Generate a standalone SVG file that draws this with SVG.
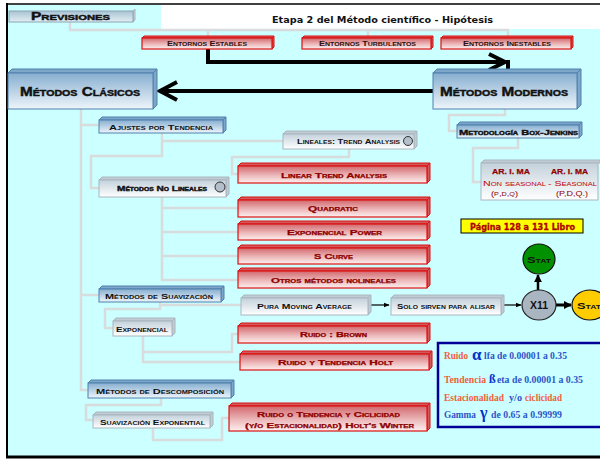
<svg xmlns="http://www.w3.org/2000/svg" width="600" height="460" viewBox="0 0 600 460">
  <defs>
    <linearGradient id="gBlue" x1="0" y1="0" x2="0" y2="1">
      <stop offset="0" stop-color="#86aed0"/>
      <stop offset="1" stop-color="#eef5fa"/>
    </linearGradient>
    <linearGradient id="gRed" x1="0" y1="0" x2="0" y2="1">
      <stop offset="0" stop-color="#d2686d"/>
      <stop offset="0.55" stop-color="#ecb8ba"/>
      <stop offset="1" stop-color="#fdf0f0"/>
    </linearGradient>
    <linearGradient id="gGrey" x1="0" y1="0" x2="0" y2="1">
      <stop offset="0" stop-color="#c3d1db"/>
      <stop offset="1" stop-color="#ffffff"/>
    </linearGradient>
    <linearGradient id="gSteel" x1="0" y1="0" x2="0" y2="1">
      <stop offset="0" stop-color="#a9c4d4"/>
      <stop offset="1" stop-color="#e3eef3"/>
    </linearGradient>
    <marker id="arrThin" viewBox="0 0 10 10" refX="9" refY="5" markerWidth="6" markerHeight="6" orient="auto" markerUnits="userSpaceOnUse">
      <path d="M0,1 L10,5 L0,9 Z" fill="#000"/>
    </marker>
    <marker id="arrBold" viewBox="0 0 10 10" refX="9" refY="5" markerWidth="8" markerHeight="8" orient="auto" markerUnits="userSpaceOnUse">
      <path d="M0,0 L10,5 L0,10 Z" fill="#000"/>
    </marker>
  </defs>
  <style>
    .blue { fill: url(#gBlue); stroke: #4f80ad; stroke-width: 1; }
    .blueS { fill: #7ea6c8; stroke: #4f80ad; stroke-width: 1; }
    .red { fill: url(#gRed); stroke: #dd1111; stroke-width: 1.2; }
    .redS { fill: #d05a5e; stroke: #dd1111; stroke-width: 1; }
    .grey { fill: url(#gGrey); stroke: #a9b6bf; stroke-width: 1; }
    .greyS { fill: #c0cbd3; stroke: #a9b6bf; stroke-width: 1; }
    .cc { font-family: "Liberation Sans", "DejaVu Sans", sans-serif; font-weight: bold; font-variant: small-caps; fill: #111; }
    .big { stroke: #111; stroke-width: 0.45; }
    .rt { font-family: "Liberation Sans", "DejaVu Sans", sans-serif; font-weight: bold; font-variant: small-caps; fill: #8e0000; stroke: #8e0000; stroke-width: 0.25; }
    .link { fill: none; stroke: #d8dcdc; stroke-width: 2.5; }
    .heavy { fill: none; stroke: #000; stroke-width: 4; }
    .sr { font-family: "Liberation Serif", "DejaVu Serif", serif; font-weight: bold; font-size: 9.5px; }
    .or { fill: #f0603a; }
    .bl { fill: #2f55c8; }
    .knob { fill: #b3bfca; stroke: #333; stroke-width: 1; }
  </style>

  <!-- background and frame -->
  <rect x="0" y="0" width="600" height="460" fill="#ffffff"/>
  <rect x="7" y="5" width="593" height="451" fill="#ccffff"/>
  <rect x="161" y="5" width="439" height="24" fill="#ffffff"/>
  <line x1="6" y1="4" x2="600" y2="4" stroke="#000" stroke-width="1.6"/>
  <line x1="7" y1="3" x2="7" y2="458" stroke="#000" stroke-width="2"/>
  <line x1="6" y1="457" x2="600" y2="457" stroke="#000" stroke-width="3"/>

  <text x="272" y="23" font-family="DejaVu Sans, Verdana, sans-serif" font-weight="bold" font-size="9.5" fill="#111" textLength="221" lengthAdjust="spacingAndGlyphs">Etapa 2 del Método científico  - Hipótesis</text>

  <!-- connectors -->
  <g id="connectors">
    <path class="link" d="M70,22 V30 H508 V37 M208,30 V37 M368,30 V37"/>
    <path class="link" d="M81,109 V390 H88 M81,125 H99 M81,295 H99"/>
    <path class="link" d="M162,133 V156 H91 V188 H99 M162,141 H283"/>
    <path class="link" d="M349,149 V157 H232 V174 H238"/>
    <path class="link" d="M162,197 V280 H238 M162,208 H238 M162,232 H238 M162,256 H238"/>
    <path class="link" d="M160,302 V309 H105 V328 H113 M160,305 H241"/>
    <path class="link" d="M143,336 V362 H240 M143,352 H232 V334 H238"/>
    <path class="link" d="M161,398 V405 H86 V420 H93"/>
    <path class="link" d="M153,428 V440 H222 V418 H229"/>
    <path class="link" d="M505,109 V115 H449 V131 H457"/>
    <path class="link" d="M518,138 V148 H473 V182 H481"/>

    <path class="heavy" d="M208,49 V62 H504"/>
    <path class="heavy" d="M489,54 L505,62 L489,70" stroke-linejoin="miter"/>
    <path class="heavy" d="M508,60 V73"/>
    <path class="heavy" d="M433,91 H161"/>
    <path class="heavy" d="M177,82 L160,91 L177,100" stroke-linejoin="miter"/>

    <path d="M371,305 H389" stroke="#000" stroke-width="1.2" marker-end="url(#arrThin)"/>
    <path d="M504,305 H521" stroke="#000" stroke-width="1.2" marker-end="url(#arrThin)"/>
    <path d="M538,290 V275" stroke="#000" stroke-width="2.5" marker-end="url(#arrBold)"/>
    <path d="M556,305 H571" stroke="#000" stroke-width="3" marker-end="url(#arrBold)"/>
  </g>

  <!-- Previsiones -->
  <g id="previsiones">
    <path class="greyS" d="M133,11 L135,9 L135,20 L133,22 Z"/>
    <rect x="9" y="11" width="124" height="11" fill="url(#gSteel)" stroke="#8aa4b4" stroke-width="1"/>
    <text class="cc big" x="31" y="20" font-size="11" textLength="79" lengthAdjust="spacingAndGlyphs">Previsiones</text>
  </g>

  <!-- Entornos -->
  <g id="entornos-estables">
    <path class="redS" d="M142,38 L144,36 L274,36 L272,38 Z M272,38 L274,36 L274,47 L272,49 Z"/>
    <rect class="red" x="142" y="38" width="130" height="11"/>
    <text class="rt" x="167" y="46" font-size="6.5" style="fill:#2a1010;stroke:none" textLength="80" lengthAdjust="spacingAndGlyphs">Entornos Estables</text>
  </g>
  <g id="entornos-turbulentos">
    <path class="redS" d="M302,38 L304,36 L433,36 L431,38 Z M431,38 L433,36 L433,47 L431,49 Z"/>
    <rect class="red" x="302" y="38" width="129" height="11"/>
    <text class="rt" x="319" y="46" font-size="6.5" style="fill:#2a1010;stroke:none" textLength="97" lengthAdjust="spacingAndGlyphs">Entornos Turbulentos</text>
  </g>
  <g id="entornos-inestables">
    <path class="redS" d="M441,38 L443,36 L573,36 L571,38 Z M571,38 L573,36 L573,47 L571,49 Z"/>
    <rect class="red" x="441" y="38" width="130" height="11"/>
    <text class="rt" x="463" y="46" font-size="6.5" style="fill:#2a1010;stroke:none" textLength="88" lengthAdjust="spacingAndGlyphs">Entornos Inestables</text>
  </g>

  <!-- main blocks -->
  <g id="metodos-clasicos">
    <path class="blueS" d="M8,73 L12,69 L157,69 L153,73 Z M153,73 L157,69 L157,105 L153,109 Z"/>
    <rect class="blue" x="8" y="73" width="145" height="36"/>
    <text class="cc big" x="20" y="96" font-size="13" textLength="120" lengthAdjust="spacingAndGlyphs">Métodos Clásicos</text>
  </g>
  <g id="metodos-modernos">
    <path class="blueS" d="M433,73 L437,69 L581,69 L577,73 Z M577,73 L581,69 L581,105 L577,109 Z"/>
    <rect class="blue" x="433" y="73" width="144" height="36"/>
    <text class="cc big" x="440" y="96" font-size="13" textLength="128" lengthAdjust="spacingAndGlyphs">Métodos Modernos</text>
  </g>

  <g id="ajustes">
    <path class="blueS" d="M99,120 L102,117 L226,117 L223,120 Z M223,120 L226,117 L226,130 L223,133 Z"/>
    <rect class="blue" x="99" y="120" width="124" height="13"/>
    <text class="cc" x="109" y="130" font-size="7.5" textLength="104" lengthAdjust="spacingAndGlyphs">Ajustes por Tendencia</text>
  </g>

  <g id="lineales">
    <path class="greyS" d="M283,134 L286,131 L417,131 L414,134 Z M414,134 L417,131 L417,146 L414,149 Z"/>
    <rect class="grey" x="283" y="134" width="131" height="15"/>
    <text class="cc" x="297" y="144" font-size="7" textLength="103" lengthAdjust="spacingAndGlyphs">Lineales: Trend Analysis</text>
    <circle class="knob" cx="408" cy="141" r="4.5"/>
  </g>

  <g id="box-jenkins">
    <path class="blueS" d="M457,125 L460,122 L582,122 L579,125 Z M579,125 L582,122 L582,135 L579,138 Z"/>
    <rect class="blue" x="457" y="125" width="122" height="13"/>
    <text class="cc" x="459" y="135" font-size="7.5" textLength="119" lengthAdjust="spacingAndGlyphs" style="stroke:#111;stroke-width:0.35">Metodología Box-Jenkins</text>
  </g>

  <g id="arima">
    <path class="greyS" d="M481,163 L484,160 L600,160 L600,163 Z"/>
    <rect class="grey" x="481" y="163" width="117" height="37"/>
    <text class="rt" x="492" y="174" font-size="8" textLength="38" lengthAdjust="spacingAndGlyphs">AR. I. MA</text>
    <text class="rt" x="551" y="174" font-size="8" textLength="37" lengthAdjust="spacingAndGlyphs">AR. I. MA</text>
    <text class="rt" x="483" y="186" font-size="7" style="fill:#c00000;stroke:none;font-weight:normal" textLength="63" lengthAdjust="spacingAndGlyphs">Non seasonal</text>
    <text class="rt" x="548" y="186" font-size="7" style="fill:#c00000;stroke:none;font-weight:normal" textLength="49" lengthAdjust="spacingAndGlyphs">- Seasonal</text>
    <text class="rt" x="491" y="196" font-size="6.5" style="stroke:none;font-weight:normal" textLength="27" lengthAdjust="spacingAndGlyphs">(p,d,q)</text>
    <text class="rt" x="556" y="196" font-size="7" style="stroke:none;font-weight:normal" textLength="32" lengthAdjust="spacingAndGlyphs">(P,D,Q.)</text>
  </g>

  <g id="no-lineales">
    <path class="greyS" d="M99,180 L102,177 L229,177 L226,180 Z M226,180 L229,177 L229,194 L226,197 Z"/>
    <rect class="grey" x="99" y="180" width="127" height="17"/>
    <text class="cc" x="117" y="191" font-size="7.5" textLength="90" lengthAdjust="spacingAndGlyphs" style="stroke:#111;stroke-width:0.4">Métodos No Lineales</text>
    <circle class="knob" cx="220" cy="187" r="5"/>
  </g>

  <!-- red method boxes -->
  <g id="linear-trend">
    <path class="redS" d="M238,166 L241,163 L430,163 L427,166 Z M427,166 L430,163 L430,180 L427,183 Z"/>
    <rect class="red" x="238" y="166" width="189" height="17"/>
    <text class="rt" x="281" y="178" font-size="7.5" textLength="106" lengthAdjust="spacingAndGlyphs">Linear Trend Analysis</text>
  </g>
  <g id="quadratic">
    <path class="redS" d="M238,200 L241,197 L430,197 L427,200 Z M427,200 L430,197 L430,214 L427,217 Z"/>
    <rect class="red" x="238" y="200" width="189" height="17"/>
    <text class="rt" x="308" y="211" font-size="7.5" textLength="50" lengthAdjust="spacingAndGlyphs">Quadratic</text>
  </g>
  <g id="exp-power">
    <path class="redS" d="M238,224 L241,221 L430,221 L427,224 Z M427,224 L430,221 L430,237 L427,240 Z"/>
    <rect class="red" x="238" y="224" width="189" height="16"/>
    <text class="rt" x="287" y="235" font-size="7.5" textLength="95" lengthAdjust="spacingAndGlyphs">Exponencial Power</text>
  </g>
  <g id="s-curve">
    <path class="redS" d="M238,248 L241,245 L430,245 L427,248 Z M427,248 L430,245 L430,261 L427,264 Z"/>
    <rect class="red" x="238" y="248" width="189" height="16"/>
    <text class="rt" x="314" y="259" font-size="7.5" textLength="39" lengthAdjust="spacingAndGlyphs">S Curve</text>
  </g>
  <g id="otros">
    <path class="redS" d="M238,271 L241,268 L430,268 L427,271 Z M427,271 L430,268 L430,285 L427,288 Z"/>
    <rect class="red" x="238" y="271" width="189" height="17"/>
    <text class="rt" x="271" y="283" font-size="7.5" textLength="125" lengthAdjust="spacingAndGlyphs">Otros métodos nolineales</text>
  </g>

  <g id="suavizacion">
    <path class="blueS" d="M99,289 L102,286 L224,286 L221,289 Z M221,289 L224,286 L224,299 L221,302 Z"/>
    <rect class="blue" x="99" y="289" width="122" height="13"/>
    <text class="cc" x="105" y="299" font-size="7.5" textLength="108" lengthAdjust="spacingAndGlyphs">Métodos de Suavización</text>
  </g>

  <g id="pura-ma">
    <path class="greyS" d="M241,298 L244,295 L371,295 L368,298 Z M368,298 L371,295 L371,312 L368,315 Z"/>
    <rect class="grey" x="241" y="298" width="127" height="17"/>
    <text class="cc" x="257" y="309" font-size="7.5" textLength="95" lengthAdjust="spacingAndGlyphs">Pura  Moving Average</text>
  </g>
  <g id="solo-alisar">
    <path class="greyS" d="M391,298 L394,295 L504,295 L501,298 Z M501,298 L504,295 L504,312 L501,315 Z"/>
    <rect class="grey" x="391" y="298" width="110" height="17"/>
    <text class="cc" x="397" y="309" font-size="7" textLength="98" lengthAdjust="spacingAndGlyphs">Solo sirven para alisar</text>
  </g>

  <g id="pagina">
    <rect x="461" y="219" width="122" height="14" fill="#ffff00" stroke="#000" stroke-width="1"/>
    <text x="470" y="230" font-family="DejaVu Sans, Verdana, sans-serif" font-weight="bold" font-size="8.5" fill="#cc0000" stroke="#7a0000" stroke-width="0.3" textLength="105" lengthAdjust="spacingAndGlyphs">Página 128 a 131 Libro</text>
  </g>

  <g id="x11">
    <ellipse cx="539" cy="305" rx="17" ry="15" fill="#a9b5c1" stroke="#222" stroke-width="1.2"/>
    <text x="530" y="309" font-family="Liberation Sans, sans-serif" font-weight="bold" font-size="10" fill="#111" textLength="18" lengthAdjust="spacingAndGlyphs">X11</text>
  </g>
  <g id="stat-green">
    <ellipse cx="539" cy="259" rx="16" ry="15" fill="#009000" stroke="#111" stroke-width="1.2"/>
    <text class="cc" x="527" y="263" font-size="9" textLength="24" lengthAdjust="spacingAndGlyphs">Stat</text>
  </g>
  <g id="stat-yellow">
    <ellipse cx="590" cy="305" rx="18" ry="15" fill="#ffcc00" stroke="#111" stroke-width="1.2"/>
    <text class="cc" x="577" y="309" font-size="9" textLength="24" lengthAdjust="spacingAndGlyphs">Stat</text>
  </g>

  <g id="exponencial">
    <path class="greyS" d="M113,321 L116,318 L175,318 L172,321 Z M172,321 L175,318 L175,333 L172,336 Z"/>
    <rect class="grey" x="113" y="321" width="59" height="15"/>
    <text class="cc" x="116" y="332" font-size="7" textLength="52" lengthAdjust="spacingAndGlyphs">Exponencial</text>
  </g>

  <g id="ruido-brown">
    <path class="redS" d="M238,326 L241,323 L430,323 L427,326 Z M427,326 L430,323 L430,340 L427,343 Z"/>
    <rect class="red" x="238" y="326" width="189" height="17"/>
    <text class="rt" x="300" y="337" font-size="7.5" textLength="67" lengthAdjust="spacingAndGlyphs">Ruido : Brown</text>
  </g>
  <g id="ruido-holt">
    <path class="redS" d="M240,354 L243,351 L432,351 L429,354 Z M429,354 L432,351 L432,367 L429,370 Z"/>
    <rect class="red" x="240" y="354" width="189" height="16"/>
    <text class="rt" x="278" y="365" font-size="7.5" textLength="115" lengthAdjust="spacingAndGlyphs">Ruido y Tendencia  Holt</text>
  </g>

  <g id="descomposicion">
    <path class="blueS" d="M88,383 L91,380 L234,380 L231,383 Z M231,383 L234,380 L234,395 L231,398 Z"/>
    <rect class="blue" x="88" y="383" width="143" height="15"/>
    <text class="cc" x="96" y="394" font-size="7.5" textLength="128" lengthAdjust="spacingAndGlyphs">Métodos de Descomposición</text>
  </g>
  <g id="suav-exponential">
    <path class="greyS" d="M93,415 L96,412 L213,412 L210,415 Z M210,415 L213,412 L213,425 L210,428 Z"/>
    <rect class="grey" x="93" y="415" width="117" height="13"/>
    <text class="cc" x="100" y="425" font-size="7" textLength="105" lengthAdjust="spacingAndGlyphs">Suavización Exponential</text>
  </g>
  <g id="holt-winter">
    <path class="redS" d="M229,406 L232,403 L430,403 L427,406 Z M427,406 L430,403 L430,428 L427,431 Z"/>
    <rect class="red" x="229" y="406" width="198" height="25"/>
    <text class="rt" x="257" y="417" font-size="7.5" textLength="143" lengthAdjust="spacingAndGlyphs">Ruido o Tendencia y Ciclicidad</text>
    <text class="rt" x="245" y="428" font-size="7.5" textLength="169" lengthAdjust="spacingAndGlyphs">(y/o Estacionalidad) Holt's Winter</text>
  </g>

  <!-- smoothing parameters -->
  <g id="parametros">
    <rect x="438" y="343" width="166" height="84" fill="#ccffff" stroke="#000099" stroke-width="2.5"/>
    <text class="sr or" x="444" y="359" textLength="24" lengthAdjust="spacingAndGlyphs">Ruido</text>
    <text class="sr bl" x="472" y="360" style="font-size:17px;fill:#0033cc">α</text>
    <text class="sr bl" x="484" y="359" textLength="83" lengthAdjust="spacingAndGlyphs">lfa de 0.00001 a 0.35</text>
    <text class="sr or" x="444" y="383" textLength="42" lengthAdjust="spacingAndGlyphs">Tendencia</text>
    <text class="sr bl" x="489" y="383" style="font-size:12px;fill:#0033cc">ß</text>
    <text class="sr bl" x="497" y="383" textLength="86" lengthAdjust="spacingAndGlyphs">eta de 0.00001 a 0.35</text>
    <text class="sr or" x="444" y="401" textLength="60" lengthAdjust="spacingAndGlyphs">Estacionalidad</text>
    <text class="sr bl" x="509" y="401" textLength="13" lengthAdjust="spacingAndGlyphs">y/o</text>
    <text class="sr or" x="525" y="401" textLength="37" lengthAdjust="spacingAndGlyphs">ciclicidad</text>
    <text class="sr bl" x="444" y="418" textLength="32" lengthAdjust="spacingAndGlyphs">Gamma</text>
    <text class="sr bl" x="480" y="418" style="font-size:16px;fill:#0033cc">γ</text>
    <text class="sr bl" x="491" y="418" textLength="71" lengthAdjust="spacingAndGlyphs">de 0.65 a 0.99999</text>
  </g>
</svg>
